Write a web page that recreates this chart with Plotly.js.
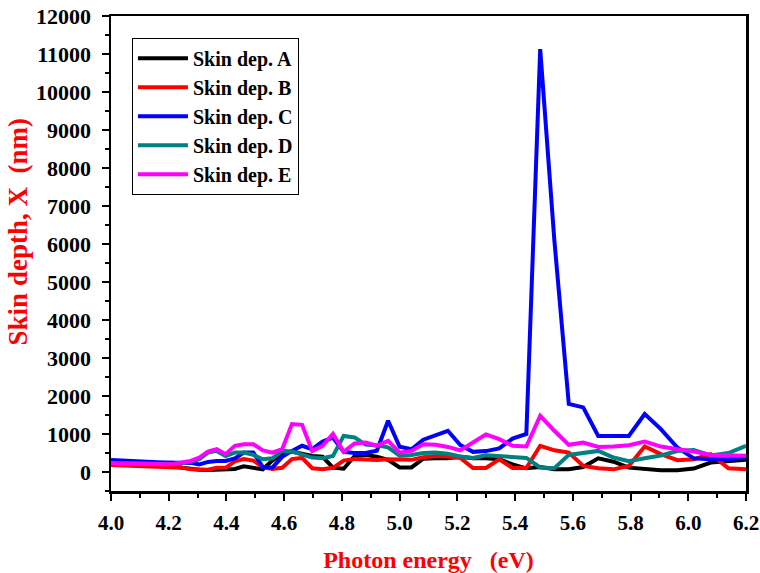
<!DOCTYPE html>
<html>
<head>
<meta charset="utf-8">
<script src="https://cdn.plot.ly/plotly-3.0.1.min.js"></script>
<style>html,body{margin:0;padding:0;background:#fff;}#chart{width:760px;height:573px;}</style>
</head>
<body>
<div id="chart"></div>
<script>
// Photon energy (eV)
const energy = [4.000, 4.026, 4.052, 4.079, 4.106, 4.133, 4.161, 4.189, 4.218, 4.247,
  4.276, 4.306, 4.336, 4.366, 4.397, 4.429, 4.460, 4.493, 4.526, 4.559,
  4.593, 4.627, 4.662, 4.697, 4.733, 4.769, 4.806, 4.844, 4.882, 4.921,
  4.960, 5.000, 5.041, 5.082, 5.124, 5.167, 5.210, 5.254, 5.299, 5.345,
  5.391, 5.439, 5.487, 5.536, 5.586, 5.636, 5.688, 5.741, 5.794, 5.849,
  5.905, 5.962, 6.019, 6.078, 6.139, 6.200];

const skinA = [200, 195, 190, 185, 180, 175, 170, 165, 150, 110,
  75, 60, 55, 60, 80, 80, 150, 120, 70, 300,
  480, 540, 480, 420, 400, 115, 85, 420, 450, 400,
  320, 120, 120, 350, 360, 360, 400, 360, 360, 335,
  200, 97, 130, 70, 70, 130, 360, 270, 115, 70,
  45, 45, 90, 250, 290, 320];

const skinB = [185, 180, 175, 170, 165, 160, 155, 150, 140, 115,
  70, 55, 60, 110, 110, 280, 340, 300, 130, 80,
  110, 340, 370, 100, 75, 110, 300, 345, 320, 315,
  335, 330, 320, 390, 420, 410, 370, 105, 105, 335,
  105, 105, 690, 570, 510, 160, 97, 70, 160, 670,
  470, 310, 335, 470, 97, 70];

const skinC = [318, 305, 295, 285, 275, 265, 258, 252, 248, 245,
  240, 200, 265, 290, 290, 360, 510, 510, 130, 115,
  400, 555, 690, 600, 800, 905, 530, 500, 500, 560,
  1350, 665, 600, 850, 975, 1085, 710, 530, 550, 620,
  880, 1000, 11130, 6100, 1790, 1700, 950, 950, 950, 1525,
  1130, 645, 360, 335, 335, 380];

const skinD = [240, 235, 230, 225, 220, 215, 210, 205, 210, 230,
  260, 335, 510, 555, 420, 510, 510, 450, 335, 360,
  555, 540, 450, 380, 360, 420, 950, 910, 720, 700,
  650, 430, 450, 500, 510, 480, 410, 370, 440, 420,
  380, 370, 120, 100, 450, 510, 555, 380, 285, 360,
  435, 550, 580, 435, 500, 690];

const skinE = [230, 225, 220, 215, 210, 205, 205, 205, 215, 265,
  290, 380, 540, 600, 470, 690, 730, 730, 570, 510,
  600, 1260, 1240, 555, 690, 1000, 530, 750, 775, 690,
  820, 510, 555, 730, 715, 660, 570, 775, 990, 865,
  690, 670, 1480, 1085, 715, 775, 660, 670, 705, 800,
  670, 600, 540, 450, 425, 425];

const seriesNames = ['Skin dep. A', 'Skin dep. B', 'Skin dep. C', 'Skin dep. D', 'Skin dep. E'];
const seriesColors = ['#000000', '#ff0000', '#0000ff', '#008080', '#ff00ff'];
const seriesData = [skinA, skinB, skinC, skinD, skinE];

const xTickVals = [4.0, 4.2, 4.4, 4.6, 4.8, 5.0, 5.2, 5.4, 5.6, 5.8, 6.0, 6.2];
const yTickVals = [0, 1000, 2000, 3000, 4000, 5000, 6000, 7000, 8000, 9000, 10000, 11000, 12000];

const traces = seriesData.map((d, i) => ({
  x: energy, y: d, type: 'scatter', mode: 'lines', name: seriesNames[i],
  line: {color: seriesColors[i], width: 4}
}));

const FONT = 'Liberation Serif, Times New Roman, serif';

const layout = {
  width: 760, height: 573,
  margin: {l: 111, r: 14, t: 16, b: 82},
  paper_bgcolor: '#fff', plot_bgcolor: '#fff',
  showlegend: true,
  legend: {
    x: 0.033, y: 0.954, xanchor: 'left', yanchor: 'top',
    bgcolor: '#fff', bordercolor: '#000', borderwidth: 1,
    font: {family: FONT, size: 20, color: '#000', weight: 'bold'},
    itemwidth: 50, traceorder: 'normal'
  },
  xaxis: {
    range: [4.0, 6.2], tickvals: xTickVals, ticktext: xTickVals.map(v => v.toFixed(1)),
    showgrid: false, zeroline: false,
    showline: true, linecolor: '#000', linewidth: 2.5, mirror: true,
    ticks: 'outside', ticklen: 7, tickwidth: 2, tickcolor: '#000',
    minor: {dtick: 0.1, ticks: 'outside', ticklen: 4, tickwidth: 2, tickcolor: '#000'},
    tickfont: {family: FONT, size: 21, color: '#000', weight: 'bold'},
    ticklabelstandoff: 4, ticklabeloverflow: 'allow',
    title: {text: 'Photon energy\u00a0\u00a0\u00a0(eV)', font: {family: FONT, size: 24, color: '#ff0000', weight: 'bold'}, standoff: 18}
  },
  yaxis: {
    range: [-500, 12000], tickvals: yTickVals, ticktext: yTickVals.map(v => String(v)),
    showgrid: false, zeroline: false,
    showline: true, linecolor: '#000', linewidth: 2.5, mirror: true,
    ticks: 'outside', ticklen: 7, tickwidth: 2, tickcolor: '#000',
    minor: {dtick: 500, ticks: 'outside', ticklen: 4, tickwidth: 2, tickcolor: '#000'},
    tickfont: {family: FONT, size: 22, color: '#000', weight: 'bold'},
    ticklabelstandoff: 6, ticklabeloverflow: 'allow'
  },
  annotations: [{
    text: 'Skin depth, X\u00a0\u00a0(nm)', textangle: -90, showarrow: false,
    xref: 'paper', yref: 'paper', x: -0.146, y: 0.545, xanchor: 'center', yanchor: 'middle',
    font: {family: FONT, size: 27, color: '#ff0000', weight: 'bold'}
  }]
};

Plotly.newPlot('chart', traces, layout, {displayModeBar: false, staticPlot: true});
</script>
</body>
</html>
